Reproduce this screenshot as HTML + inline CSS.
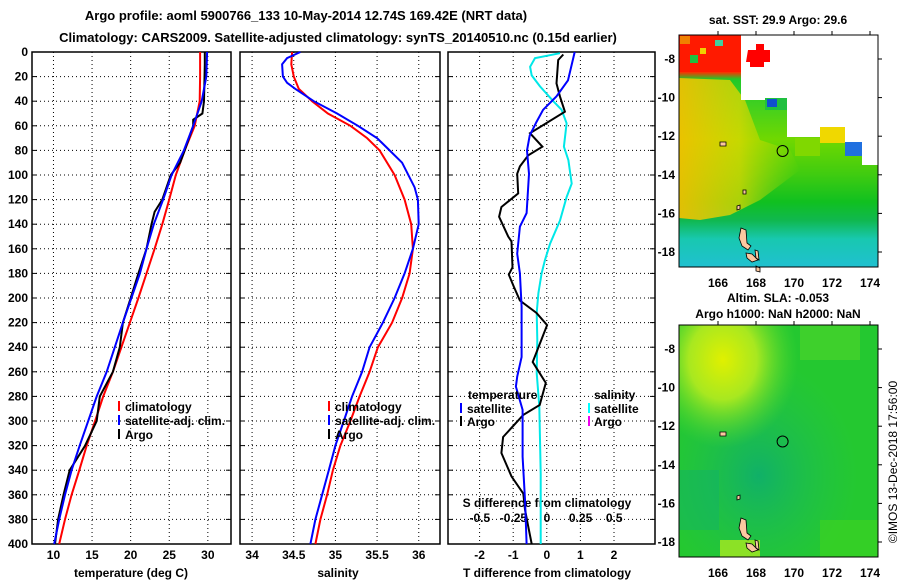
<!DOCTYPE html>
<html><head><meta charset="utf-8"><style>
html,body{margin:0;padding:0;background:#fff;}
svg{display:block;font-family:"Liberation Sans",Arial,sans-serif;font-weight:bold;}
</style></head><body>
<svg id="fig" width="900" height="580" viewBox="0 0 900 580" xmlns="http://www.w3.org/2000/svg">
<defs>
<linearGradient id="sstGrad" x1="0" y1="0" x2="0" y2="1">
<stop offset="0" stop-color="#ff2a00"/><stop offset="0.16" stop-color="#ff3000"/><stop offset="0.19" stop-color="#20c828"/>
<stop offset="0.3" stop-color="#40d020"/><stop offset="0.45" stop-color="#70d800"/><stop offset="0.6" stop-color="#40cc10"/>
<stop offset="0.72" stop-color="#10c020"/><stop offset="0.8" stop-color="#10b850"/><stop offset="0.88" stop-color="#18c8b0"/><stop offset="1" stop-color="#20c0d0"/>
</linearGradient>
<linearGradient id="sstYellow" x1="0" y1="0" x2="1" y2="0">
<stop offset="0" stop-color="#f8c000"/><stop offset="0.5" stop-color="#e8d800" stop-opacity="0.8"/><stop offset="1" stop-color="#c0e000" stop-opacity="0"/>
</linearGradient>
<radialGradient id="slaBlob" cx="0.22" cy="0.15" r="0.38">
<stop offset="0" stop-color="#e0f000"/><stop offset="0.45" stop-color="#a8e820"/><stop offset="1" stop-color="#50d830" stop-opacity="0"/>
</radialGradient>
<radialGradient id="slaLow" cx="0.4" cy="0.65" r="0.5">
<stop offset="0" stop-color="#10b068"/><stop offset="1" stop-color="#20c050" stop-opacity="0"/>
</radialGradient>
</defs>

<text x="306" y="20" font-size="13" text-anchor="middle">Argo profile: aoml 5900766_133 10-May-2014 12.74S 169.42E (NRT data)</text>
<text x="338" y="42" font-size="13" text-anchor="middle">Climatology: CARS2009. Satellite-adjusted climatology: synTS_20140510.nc (0.15d earlier)</text>

<g id="p1"></g>
<g id="p2"></g>
<g id="p3"></g>

<g font-size="12">
<line x1="119" y1="401" x2="119" y2="411" stroke="#f00" stroke-width="2"/><text x="125" y="411">climatology</text>
<line x1="119" y1="415" x2="119" y2="425" stroke="#00f" stroke-width="2"/><text x="125" y="425">satellite-adj. clim.</text>
<line x1="119" y1="429" x2="119" y2="439" stroke="#000" stroke-width="2"/><text x="125" y="439">Argo</text>
</g>
<g font-size="12">
<line x1="329" y1="401" x2="329" y2="411" stroke="#f00" stroke-width="2"/><text x="335" y="411">climatology</text>
<line x1="329" y1="415" x2="329" y2="425" stroke="#00f" stroke-width="2"/><text x="335" y="425">satellite-adj. clim.</text>
<line x1="329" y1="429" x2="329" y2="439" stroke="#000" stroke-width="2"/><text x="335" y="439">Argo</text>
</g>
<g font-size="12">
<text x="468" y="399">temperature</text>
<line x1="461" y1="403" x2="461" y2="413" stroke="#00f" stroke-width="2"/><text x="467" y="413">satellite</text>
<line x1="461" y1="416" x2="461" y2="426" stroke="#000" stroke-width="2"/><text x="467" y="426">Argo</text>
<text x="594" y="399">salinity</text>
<line x1="589" y1="403" x2="589" y2="413" stroke="#0ff" stroke-width="2"/><text x="594" y="413">satellite</text>
<line x1="589" y1="416" x2="589" y2="426" stroke="#e0e" stroke-width="2"/><text x="594" y="426">Argo</text>
</g>

<text x="778" y="24" font-size="12" text-anchor="middle">sat. SST: 29.9 Argo: 29.6</text>
<g>
<rect x="679" y="35" width="199" height="232" fill="url(#sstGrad)"/>
<polygon points="679,78 730,80 745,100 760,140 790,150 800,170 760,200 730,215 700,220 679,218" fill="url(#sstYellow)" opacity="0.9"/>
<rect x="679" y="35" width="62" height="37" fill="#ff1a00"/>
<rect x="680" y="36" width="10" height="8" fill="#f08000"/>
<rect x="690" y="55" width="8" height="8" fill="#20c040"/>
<rect x="700" y="48" width="6" height="6" fill="#f0d000"/>
<rect x="715" y="40" width="8" height="6" fill="#40d0a0"/>
<polygon points="741,35 878,35 878,165 862,165 862,143 845,143 845,127 820,127 820,137 787,137 787,108 765,108 765,100 741,100" fill="#fff"/>
<rect x="820" y="127" width="25" height="16" fill="#f0d800"/>
<rect x="845" y="142" width="17" height="14" fill="#2070e0"/>
<rect x="795" y="138" width="25" height="18" fill="#80d800"/>
<rect x="765" y="98" width="22" height="12" fill="#20c040"/>
<rect x="767" y="99" width="10" height="8" fill="#1050d0"/>
<polygon points="748,50 756,50 756,44 764,44 764,50 770,50 770,62 764,62 764,67 750,67 750,62 746,62" fill="#ff0000"/>
</g>
<g fill="#fcc8a0" stroke="#000" stroke-width="0.8">
<polygon points="741,228 746,230 747,243 751,246 748,250 742,246 739,238"/>
<polygon points="746,253 752,254 758,260 752,262 747,258"/>
<polygon points="755,250 758,251 759,260 756,258"/>
<polygon points="756,266 760,268 760,272 756,271"/>
<polygon points="737,206 740,205 740,209 737,210"/>
<polygon points="720,142 726,142 726,146 720,146"/>
<polygon points="743,190 746,190 746,194 743,194"/>
</g>
<circle cx="782.6" cy="151" r="5.5" fill="none" stroke="#000" stroke-width="1"/>
<rect x="679" y="35" width="199" height="232" fill="none" stroke="#000" stroke-width="1"/>
<g id="sstAxes" font-size="12"></g>

<text x="778" y="302" font-size="12" text-anchor="middle">Altim. SLA: -0.053</text>
<text x="778" y="318" font-size="12" text-anchor="middle">Argo h1000: NaN h2000: NaN</text>
<g>
<rect x="679" y="325" width="199" height="232" fill="#24c830"/>
<rect x="679" y="325" width="199" height="232" fill="url(#slaLow)"/>
<rect x="679" y="325" width="199" height="232" fill="url(#slaBlob)"/>
<rect x="800" y="325" width="60" height="35" fill="#58d828" opacity="0.5"/>
<rect x="720" y="540" width="40" height="17" fill="#a8e820" opacity="0.8"/>
<rect x="820" y="520" width="58" height="37" fill="#40d420" opacity="0.6"/>
<rect x="679" y="470" width="40" height="60" fill="#10b070" opacity="0.4"/>
</g>
<g fill="#fcc8a0" stroke="#000" stroke-width="0.8">
<polygon points="741,518 746,520 747,533 751,536 748,540 742,536 739,528"/>
<polygon points="746,543 752,544 758,550 752,552 747,548"/>
<polygon points="755,540 758,541 759,550 756,548"/>
<polygon points="720,432 726,432 726,436 720,436"/>
<polygon points="737,496 740,495 740,499 737,500"/>
</g>
<circle cx="782.6" cy="441.5" r="5.5" fill="none" stroke="#000" stroke-width="1"/>
<rect x="679" y="325" width="199" height="232" fill="none" stroke="#000" stroke-width="1"/>
<g id="slaAxes" font-size="12"></g>

<text transform="translate(897,462) rotate(-90)" font-size="12" font-weight="normal" text-anchor="middle">©IMOS 13-Dec-2018 17:56:00</text>
</svg>
<script>
const depthTicks = [0,20,40,60,80,100,120,140,160,180,200,220,240,260,280,300,320,340,360,380,400];
const tempTicks = [10,15,20,25,30];
const salTicks = [34,34.5,35,35.5,36];
const salTickLabels = ["34","34.5","35","35.5","36"];
const tdiffTicks = [-2,-1,0,1,2];
const sdiffTicks = [-0.5,-0.25,0,0.25,0.5];
const sdiffTickLabels = ["-0.5","-0.25","0","0.25","0.5"];
const lonTicks = [166,168,170,172,174];
const latTicks = [-8,-10,-12,-14,-16,-18];

const climDepth = [0,20,40,60,80,100,120,140,160,180,200,220,240,260,280,300,320,340,360,380,400];
const tempClim = [29.0,29.0,28.95,28.3,27.0,25.85,25.0,24.1,23.1,22.05,21.0,19.9,18.8,17.7,16.45,15.4,14.3,13.35,12.35,11.5,10.75];
const tempSat = [29.9,29.8,29.2,28.1,26.9,25.3,24.2,23.0,22.05,21.2,20.1,19.0,17.95,16.9,15.6,14.5,13.4,12.35,11.5,10.75,10.1];
const argoDepth = [0,10,40,50,55,60,80,90,100,120,130,140,160,180,200,220,240,260,280,300,320,340,360,380,400];
const tempArgo = [29.6,29.6,29.5,29.3,28.1,28.1,27.0,26.4,25.2,24.1,23.1,22.7,22.05,21.0,20.0,19.0,18.6,17.7,16.0,15.6,14.1,12.1,11.3,10.6,10.2];

const salDepthClim = [0,10,20,30,40,50,60,70,80,100,120,140,160,180,200,220,240,260,280,300,320,340,360,380,400];
const salClim = [34.48,34.47,34.50,34.56,34.72,34.91,35.18,35.38,35.53,35.71,35.83,35.91,35.93,35.89,35.80,35.68,35.51,35.41,35.29,35.18,35.06,34.97,34.90,34.82,34.76];
const salDepthSat = [0,5,10,20,25,30,40,50,60,70,80,90,110,120,140,160,180,200,220,240,260,280,300,320,340,360,380,400];
const salSat = [34.58,34.42,34.36,34.37,34.42,34.52,34.74,35.02,35.27,35.50,35.65,35.80,35.95,35.99,36.0,35.93,35.83,35.71,35.57,35.41,35.32,35.20,35.10,35.0,34.92,34.84,34.76,34.70];

const tdSatDepth = [0,23,36,47,57,68,80,99,131,142,164,180,207,248,264,272,291,329,364,386,400];
const tdSat = [0.83,0.63,0.29,-0.11,-0.31,-0.51,-0.59,-0.53,-0.60,-0.80,-0.88,-0.80,-0.75,-0.75,-0.88,-0.92,-0.72,-0.72,-0.65,-0.62,-0.60];
const tdArgoDepth = [2,6.5,25.5,36,48.5,66,77,84,93,99,115,126,134,150,154,175,181,191,202,212,222,252,269,287,295,313,326,345,359,372,386,400];
const tdArgo = [0.49,0.34,0.29,0.39,0.54,-0.50,-0.13,-0.55,-0.80,-0.88,-0.85,-1.35,-1.42,-1.15,-1.05,-1.02,-1.13,-0.98,-0.80,-0.31,0.01,-0.42,-0.03,-0.21,-0.70,-1.30,-1.35,-1.05,-0.70,-0.65,-0.55,-0.45];
const sdSatDepth = [1,5,12,19,28,40,47,58,77,88,107,118,137,156,169,180,196,212,234,261,288,315,343,383,400];
const sdSat = [0.097,-0.089,-0.126,-0.114,-0.052,0.047,0.109,0.146,0.126,0.159,0.184,0.146,0.097,0.022,-0.015,-0.040,-0.064,-0.077,-0.072,-0.077,-0.057,-0.052,-0.047,-0.047,-0.047];

const Y0 = 52, Y1 = 544;
const yD = d => Y0 + (d/400)*(Y1-Y0);
const P1 = {x0:32, x1:231, v0:7.22, v1:33.0};
const P2 = {x0:240, x1:440, v0:33.855, v1:36.255};
const P3 = {x0:448, x1:655, v0:-2.94, v1:3.22};
const sx = (p,v) => p.x0 + (v-p.v0)/(p.v1-p.v0)*(p.x1-p.x0);
const xS3 = v => 547 + v*134.4;
const NS = "http://www.w3.org/2000/svg";
function mk(tag, parent){ const e=document.createElementNS(NS,tag); parent.appendChild(e); return e; }

function frame(g, p, gridVals, scaleFn){
  const r = mk('rect', g);
  
  
  r.setAttribute('x',p.x0); r.setAttribute('y',Y0); r.setAttribute('width',p.x1-p.x0); r.setAttribute('height',Y1-Y0);
  r.setAttribute('fill','none'); r.setAttribute('stroke','#000'); r.setAttribute('stroke-width','1.5');
  depthTicks.forEach(d=>{
    if(d>0 && d<400){
      const l = mk('line', g);
      
      
      l.setAttribute('x1',p.x0); l.setAttribute('x2',p.x1); l.setAttribute('y1',yD(d)); l.setAttribute('y2',yD(d));
      l.setAttribute('stroke','#000'); l.setAttribute('stroke-dasharray','1,3');
    }
    [[p.x0,p.x0+5],[p.x1-5,p.x1]].forEach(([a,b])=>{
      const t = mk('line', g);
      
      
      t.setAttribute('x1',a); t.setAttribute('x2',b); t.setAttribute('y1',yD(d)); t.setAttribute('y2',yD(d)); t.setAttribute('stroke','#000');
    });
  });
  gridVals.forEach(v=>{
    const x = scaleFn(v);
    const l = mk('line', g);
    
    
    l.setAttribute('x1',x); l.setAttribute('x2',x); l.setAttribute('y1',Y0); l.setAttribute('y2',Y1);
    l.setAttribute('stroke','#000'); l.setAttribute('stroke-dasharray','1,3');
  });
}
function line(g, xs, ds, scaleFn, color, name){
  const pl = mk('polyline', g);
  
  
  pl.setAttribute('points', xs.map((v,i)=>scaleFn(v).toFixed(1)+','+yD(ds[i]).toFixed(1)).join(' '));
  pl.setAttribute('fill','none'); pl.setAttribute('stroke',color); pl.setAttribute('stroke-width','2');
}
function label(g, x, y, txt, anchor, size){
  const t = mk('text', g);
  
  
  t.setAttribute('x',x); t.setAttribute('y',y); t.setAttribute('text-anchor',anchor||'middle'); t.setAttribute('font-size',size||12);
  t.textContent = txt;
}

const g1 = document.getElementById('p1'), g2 = document.getElementById('p2'), g3 = document.getElementById('p3');
const f1 = v=>sx(P1,v), f2 = v=>sx(P2,v), f3 = v=>sx(P3,v);
frame(g1,P1,tempTicks,f1); frame(g2,P2,salTicks,f2); frame(g3,P3,tdiffTicks,f3);

depthTicks.forEach(d=>label(g1,28,yD(d)+4,String(d),'end'));
tempTicks.forEach(v=>label(g1,f1(v),559,String(v)));
label(g1,131,577,'temperature (deg C)');
salTicks.forEach((v,i)=>label(g2,f2(v),559,salTickLabels[i]));
label(g2,338,577,'salinity');
tdiffTicks.forEach(v=>label(g3,f3(v),559,String(v)));
sdiffTicks.forEach((v,i)=>label(g3,xS3(v),522,sdiffTickLabels[i]));
label(g3,547,507,'S difference from climatology');
label(g3,547,577,'T difference from climatology');

line(g1,tempClim,climDepth,f1,'#ff0000','temperature-climatology-line');
line(g1,tempArgo,argoDepth,f1,'#000000','temperature-argo-line');
line(g1,tempSat,climDepth,f1,'#0000ff','temperature-satellite-line');
line(g2,salClim,salDepthClim,f2,'#ff0000','salinity-climatology-line');
line(g2,salSat,salDepthSat,f2,'#0000ff','salinity-satellite-line');
line(g3,sdSat,sdSatDepth,xS3,'#00e8e8','salinity-diff-satellite-line');
line(g3,tdArgo,tdArgoDepth,f3,'#000000','temperature-diff-argo-line');
line(g3,tdSat,tdSatDepth,f3,'#0000ff','temperature-diff-satellite-line');

function mapAxes(id, top){
  const g = document.getElementById(id);
  const xl = lon => 718 + (lon-166)*19;
  const yl = lat => top + 24 + (-8-lat)*19.3;
  lonTicks.forEach(v=>{
    label(g, xl(v), top+232+20, String(v));
    const t = mk('line', g);
    
    
    t.setAttribute('x1',xl(v)); t.setAttribute('x2',xl(v)); t.setAttribute('y1',top-4); t.setAttribute('y2',top); t.setAttribute('stroke','#000');
  });
  latTicks.forEach(v=>{
    label(g, 675, yl(v)+4, String(v), 'end');
    const t = mk('line', g);
    
    
    t.setAttribute('x1',878); t.setAttribute('x2',882); t.setAttribute('y1',yl(v)); t.setAttribute('y2',yl(v)); t.setAttribute('stroke','#000');
  });
}
mapAxes('sstAxes',35); mapAxes('slaAxes',325);
</script>
</body></html>
